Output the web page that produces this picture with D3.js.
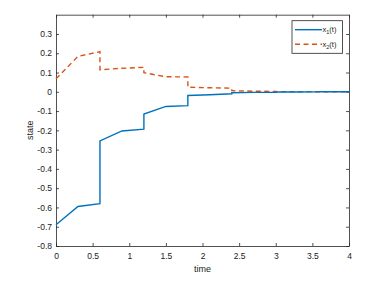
<!DOCTYPE html>
<html>
<head>
<meta charset="utf-8">
<script src="https://cdn.jsdelivr.net/npm/d3@7"></script>
<style>
  body { margin: 0; background: #fff; }
  svg { font-family: "Liberation Sans", Arial, sans-serif; }
</style>
</head>
<body>
<svg id="chart" width="390" height="282"></svg>
<script>
// sample times (a repeated time is a jump)
var times = [0, 0.3, 0.6, 0.6, 0.9, 1.2, 1.2, 1.5, 1.8, 1.8, 2.1, 2.4, 2.4, 2.7, 3.0, 3.0, 3.3, 3.6, 3.6, 3.9, 4.0];
var x1Values = [-0.69, -0.595, -0.58, -0.255, -0.203, -0.194, -0.115, -0.076, -0.072, -0.019, -0.015, -0.010, -0.005, -0.003, -0.002, -0.001, -0.001, -0.0005, 0, 0, 0];
var x2Values = [0.067, 0.184, 0.208, 0.114, 0.122, 0.127, 0.099, 0.078, 0.077, 0.024, 0.021, 0.019, 0.006, 0.003, 0.002, 0.001, 0.001, 0.0005, 0, 0, 0];
var xTicks = [0, 0.5, 1, 1.5, 2, 2.5, 3, 3.5, 4];
var yTicks = [-0.8, -0.7, -0.6, -0.5, -0.4, -0.3, -0.2, -0.1, 0, 0.1, 0.2, 0.3];
var seriesNames = ["1", "2"];

var svg = d3.select("#chart");
var plotLeft = 56, plotRight = 349, plotTop = 14.7, plotBottom = 246;
var axisColor = "#262626";

var x = d3.scaleLinear().domain([0, 4]).range([plotLeft, plotRight]);
var y = d3.scaleLinear().domain([-0.8, 0.4]).range([plotBottom, plotTop]);
var fmt = function(d){ return String(+d.toFixed(1)); };

var styleAxis = function(g){
	g.select(".domain").attr("stroke", axisColor).attr("stroke-width", 0.8);
	g.selectAll(".tick line").attr("stroke", axisColor).attr("stroke-width", 0.8);
	g.selectAll(".tick text").attr("fill", "#1a1a1a").attr("font-size", 8.5);
};

svg.append("g").attr("transform", "translate(0," + plotBottom + ")")
	.call(d3.axisBottom(x).tickValues(xTicks).tickFormat(fmt).tickSize(-3).tickPadding(6.5).tickSizeOuter(0))
	.call(styleAxis);
svg.append("g").attr("transform", "translate(" + plotLeft + ",0)")
	.call(d3.axisLeft(y).tickValues(yTicks).tickFormat(fmt).tickSize(-3).tickPadding(4).tickSizeOuter(0))
	.call(styleAxis);
svg.append("g").attr("transform", "translate(0," + plotTop + ")")
	.call(d3.axisTop(x).tickValues(xTicks).tickFormat("").tickSize(-3).tickSizeOuter(0))
	.call(styleAxis);
svg.append("g").attr("transform", "translate(" + plotRight + ",0)")
	.call(d3.axisRight(y).tickValues(yTicks).tickFormat("").tickSize(-3).tickSizeOuter(0))
	.call(styleAxis);

// data lines
var line = d3.line()
	.x(function(d, i){ return x(times[i]); })
	.y(function(d){ return y(d); });

svg.append("path")
	.attr("d", line(x2Values))
	.attr("fill", "none")
	.attr("stroke", "#D95319")
	.attr("stroke-width", 1.4)
	.attr("stroke-dasharray", "5,3.5");

svg.append("path")
	.attr("d", line(x1Values))
	.attr("fill", "none")
	.attr("stroke", "#0072BD")
	.attr("stroke-width", 1.4);

// axis labels
svg.append("text")
	.attr("x", (plotLeft + plotRight) / 2).attr("y", 271.5)
	.attr("text-anchor", "middle").attr("font-size", 9).attr("fill", "#1a1a1a")
	.text("time");
svg.append("text")
	.attr("transform", "translate(32.5," + ((plotTop + plotBottom) / 2) + ") rotate(-90)")
	.attr("text-anchor", "middle").attr("font-size", 9).attr("fill", "#1a1a1a")
	.text("state");

// legend
var legend = svg.append("g");
legend.append("rect")
	.attr("x", 292).attr("y", 20.7).attr("width", 50.5).attr("height", 32.6)
	.attr("fill", "#fff").attr("stroke", axisColor).attr("stroke-width", 0.8);
var legendColors = ["#0072BD", "#D95319"];
var legendDash = [null, "5,3.5"];
seriesNames.forEach(function(n, i){
	var ly = 29.7 + i * 14.5;
	legend.append("line")
		.attr("x1", 295).attr("x2", 322).attr("y1", ly).attr("y2", ly)
		.attr("stroke", legendColors[i]).attr("stroke-width", 1.4)
		.attr("stroke-dasharray", legendDash[i]);
	var t = legend.append("text")
		.attr("x", 322.5).attr("y", ly + 2.5)
		.attr("font-size", 7.5).attr("fill", "#1a1a1a");
	t.append("tspan").text("x");
	t.append("tspan").attr("font-size", 5.5).attr("dy", 2).text(n);
	t.append("tspan").attr("dy", -2).text("(t)");
});
</script>
</body>
</html>
